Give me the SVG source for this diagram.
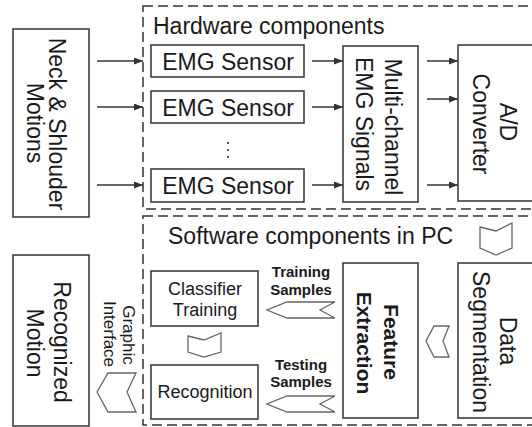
<svg xmlns="http://www.w3.org/2000/svg" width="532" height="427" viewBox="0 0 532 427">
<style>
.box{fill:#fff;stroke:#333;stroke-width:1.5}
.dash{fill:none;stroke:#333;stroke-width:1.5;stroke-dasharray:10 5}
.t{font-family:"Liberation Sans",Arial,sans-serif;font-size:23px;fill:#1a1a1a}
.tm{font-family:"Liberation Sans",Arial,sans-serif;font-size:18px;fill:#1a1a1a}
.tb{font-family:"Liberation Sans",Arial,sans-serif;font-size:21px;font-weight:bold;fill:#1a1a1a}
.ts{font-family:"Liberation Sans",Arial,sans-serif;font-size:15px;font-weight:bold;fill:#1a1a1a}
.tg{font-family:"Liberation Sans",Arial,sans-serif;font-size:17px;fill:#1a1a1a}
.chev{fill:#fff;stroke:#666;stroke-width:1.3;stroke-linejoin:miter}
.arr{stroke:#333;stroke-width:1.5;fill:none;marker-end:url(#ah)}
</style>
<defs>
<marker id="ah" markerUnits="userSpaceOnUse" markerWidth="10" markerHeight="8" refX="9" refY="3.5" orient="auto">
<path d="M0,0 L9,3.5 L0,7 z" fill="#333"/>
</marker>
</defs>
<rect width="532" height="427" fill="#fff"/>

<g id="hardware-group">
<rect class="dash" x="143" y="6" width="400" height="203"/>
<text class="t" x="153" y="34">Hardware components</text>
</g>
<g id="software-group">
<rect class="dash" x="143" y="216" width="400" height="209"/>
<text class="t" x="168" y="244">Software components in PC</text>
</g>

<g id="neck">
<rect class="box" x="13" y="29" width="76" height="188"/>
<text class="t" text-anchor="middle" transform="translate(48.5,124) rotate(90)">Neck &amp; Shlouder</text>
<text class="t" text-anchor="middle" transform="translate(26.5,123) rotate(90)">Motions</text>
</g>

<g id="sensor1">
<rect class="box" x="151" y="45" width="153" height="32"/>
<text class="t" x="228" y="70" text-anchor="middle">EMG Sensor</text>
</g>
<g id="sensor2">
<rect class="box" x="151" y="91" width="153" height="32"/>
<text class="t" x="228" y="116" text-anchor="middle">EMG Sensor</text>
</g>
<g id="ellipsis">
<circle cx="228" cy="143" r="1.1" fill="#333"/>
<circle cx="228" cy="150" r="1.1" fill="#333"/>
<circle cx="228" cy="157" r="1.1" fill="#333"/>
</g>
<g id="sensor3">
<rect class="box" x="151" y="169" width="153" height="33"/>
<text class="t" x="228" y="194" text-anchor="middle">EMG Sensor</text>
</g>

<g id="multichannel">
<rect class="box" x="343" y="46" width="75" height="156"/>
<text class="t" text-anchor="middle" transform="translate(385,127) rotate(90)">Multi-channel</text>
<text class="t" text-anchor="middle" transform="translate(356,124) rotate(90)">EMG Signals</text>
</g>

<g id="ad">
<rect class="box" x="458" y="45" width="90" height="156"/>
<text class="t" text-anchor="middle" transform="translate(500,122) rotate(90)">A/D</text>
<text class="t" text-anchor="middle" transform="translate(473,124) rotate(90)">Converter</text>
</g>

<g id="classifier">
<rect class="box" x="151" y="271" width="107" height="55"/>
<text class="tm" x="205" y="295" text-anchor="middle">Classifier</text>
<text class="tm" x="205" y="316" text-anchor="middle">Training</text>
</g>

<g id="recognition">
<rect class="box" x="151" y="365" width="107" height="54"/>
<text class="tm" x="205" y="398" text-anchor="middle">Recognition</text>
</g>

<g id="feature">
<rect class="box" x="343" y="263" width="75" height="155"/>
<text class="tb" text-anchor="middle" transform="translate(384,342) rotate(90)">Feature</text>
<text class="tb" text-anchor="middle" transform="translate(357,343) rotate(90)">Extraction</text>
</g>

<g id="segmentation">
<rect class="box" x="458" y="263" width="90" height="155"/>
<text class="t" text-anchor="middle" transform="translate(500,341) rotate(90)">Data</text>
<text class="t" text-anchor="middle" transform="translate(473,342) rotate(90)">Segmentation</text>
</g>

<g id="recognized">
<rect class="box" x="13" y="255" width="76" height="171"/>
<text class="t" text-anchor="middle" transform="translate(53.5,342) rotate(90)">Recognized</text>
<text class="t" text-anchor="middle" transform="translate(27,343) rotate(90)">Motion</text>
</g>

<g id="connectors">
<line class="arr" x1="97" y1="61" x2="143" y2="61"/>
<line class="arr" x1="97" y1="107" x2="143" y2="107"/>
<line class="arr" x1="97" y1="185" x2="143" y2="185"/>
<line class="arr" x1="312" y1="61" x2="343" y2="61"/>
<line class="arr" x1="312" y1="107" x2="343" y2="107"/>
<line class="arr" x1="312" y1="185" x2="343" y2="185"/>
<line class="arr" x1="427" y1="61" x2="458" y2="61"/>
<line class="arr" x1="427" y1="99" x2="458" y2="99"/>
<line class="arr" x1="427" y1="185" x2="458" y2="185"/>
<path class="chev" d="M480,227 L496,231 L512,223 L512,248 L496,255 L480,248 Z"/>
<path class="chev" d="M449,326 L443,341 L449,357 L434,357 L426,341 L434,326 Z"/>
<path class="chev" d="M335,302 L320,310 L335,318 L287,318 L267,310 L287,302 Z"/>
<path class="chev" d="M335,396 L320,404 L335,412 L287,412 L267,404 L287,396 Z"/>
<path class="chev" d="M188,336 L204,340 L221,333 L221,352 L204,357 L188,352 Z"/>
<path class="chev" d="M136,373 L127,392 L136,412 L108,412 L97,392 L108,373 Z"/>
<text class="ts" x="301" y="277" text-anchor="middle">Training</text>
<text class="ts" x="301" y="295" text-anchor="middle">Samples</text>
<text class="ts" x="301" y="370" text-anchor="middle">Testing</text>
<text class="ts" x="301" y="387" text-anchor="middle">Samples</text>
<text class="tg" text-anchor="middle" transform="translate(123,335) rotate(90)">Graphic</text>
<text class="tg" text-anchor="middle" transform="translate(104,334) rotate(90)">Interface</text>
</g>
</svg>
